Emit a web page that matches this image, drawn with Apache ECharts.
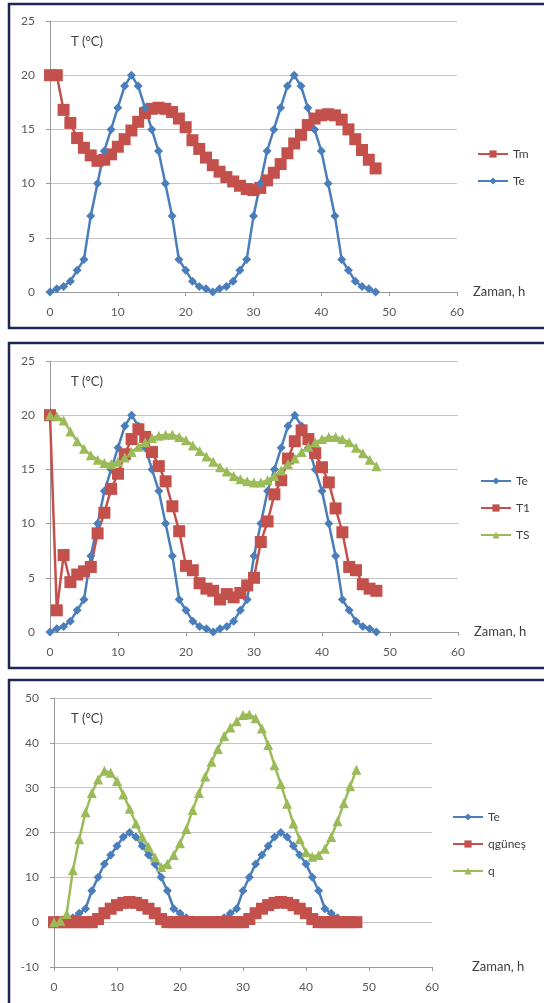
<!DOCTYPE html>
<html>
<head>
<meta charset="utf-8">
<script src="https://cdn.jsdelivr.net/npm/echarts@6/dist/echarts.min.js"></script>
<style>
  html, body { margin: 0; padding: 0; background: #fff; }
  #main { width: 544px; height: 1003px; }
</style>
</head>
<body>
<div id="main"></div>
<script>
// saat (0..48)
var hours = [];
for (var h = 0; h <= 48; h++) hours.push(h);

// dış hava sıcaklığı, her üç grafikte aynı
var te = [0, 0.3, 0.5, 1, 2, 3, 7, 10, 13, 15, 17, 19, 20, 19, 17, 15, 13, 10, 7, 3, 2, 1, 0.5, 0.3,
          0, 0.3, 0.5, 1, 2, 3, 7, 10, 13, 15, 17, 19, 20, 19, 17, 15, 13, 10, 7, 3, 2, 1, 0.5, 0.3, 0];

// grafik 1
var tm = [20, 20, 16.8, 15.6, 14.2, 13.3, 12.6, 12.1, 12.2, 12.7, 13.4, 14.1, 14.9, 15.7, 16.5, 16.9,
          17.0, 16.9, 16.6, 16.0, 15.2, 14.0, 13.2, 12.4, 11.7, 11.1, 10.6, 10.2, 9.8, 9.5, 9.4, 9.6,
          10.3, 11.0, 11.8, 12.8, 13.7, 14.5, 15.4, 16.0, 16.3, 16.4, 16.3, 15.9, 15.0, 14.1, 13.1, 12.2, 11.4];

// grafik 2
var t1 = [20, 2.0, 7.1, 4.6, 5.3, 5.6, 6.0, 9.1, 11.0, 13.2, 14.6, 16.4, 17.8, 18.7, 18.0, 16.6,
          15.3, 13.9, 11.6, 9.3, 6.1, 5.7, 4.5, 4.0, 3.8, 3.0, 3.5, 3.2, 3.6, 4.3, 5.0, 8.3,
          10.2, 12.7, 14.0, 16.0, 17.6, 18.6, 17.8, 16.5, 15.2, 13.8, 11.4, 9.2, 6.0, 5.7, 4.4, 4.0, 3.8];
var ts = [20, 19.9, 19.5, 18.5, 17.6, 16.9, 16.3, 15.9, 15.6, 15.5, 15.7, 16.1, 16.6, 17.1, 17.5, 17.9,
          18.1, 18.2, 18.2, 18.0, 17.7, 17.2, 16.7, 16.2, 15.7, 15.2, 14.8, 14.4, 14.1, 13.9, 13.8, 13.8,
          14.0, 14.4, 14.9, 15.5, 16.0, 16.6, 17.1, 17.5, 17.8, 18.0, 18.0, 17.8, 17.5, 17.0, 16.5, 15.9, 15.3];

// grafik 3
var qGunes = [0, 0, 0, 0, 0, 0, 0, 0.7, 2.0, 3.0, 3.8, 4.3, 4.5, 4.3, 3.8, 3.0, 2.0, 0.7,
              0, 0, 0, 0, 0, 0, 0, 0, 0, 0, 0, 0, 0, 0.7, 2.0, 3.0, 3.8, 4.3, 4.5, 4.3, 3.8, 3.0, 2.0, 0.7,
              0, 0, 0, 0, 0, 0, 0];
var q = [0, 0.3, 1.8, 11.6, 18.5, 24.5, 28.8, 31.8, 33.8, 33.3, 31.5, 28.5, 25.3, 22.0, 19.0, 16.8,
         14.5, 12.3, 13.0, 15.0, 17.6, 20.8, 25.0, 28.8, 32.5, 35.8, 38.6, 41.5, 43.4, 44.8, 46.2, 46.3,
         45.5, 43.2, 39.5, 35.0, 30.8, 26.4, 22.0, 18.5, 15.6, 14.6, 15.0, 16.4, 19.0, 22.5, 26.5, 30.3, 34.0];

function pts(vals) {
    return hours.map(function (h, i) { return [h, vals[i]]; });
}

var BLUE = '#4a7ebb', RED = '#c4504c', GREEN = '#9bbb59';
var TXT = '#595959';
var FONT = 'Lato';

function xAxisOf(idx, onZero) {
    return {
        type: 'value', gridIndex: idx, min: 0, max: 60, interval: 10,
        name: 'Zaman, h', nameLocation: 'end', nameGap: idx === 2 ? 40 : 16,
        nameTextStyle: {color: '#404040', fontSize: 13, fontFamily: FONT},
        axisLine: {show: true, onZero: onZero, lineStyle: {color: '#9a9a9a'}},
        axisTick: {show: true, length: 4, lineStyle: {color: '#9a9a9a'}},
        axisLabel: {color: TXT, fontSize: 12, fontFamily: FONT, margin: 14},
        splitLine: {show: false}
    };
}

function yAxisOf(idx, min, max, step) {
    return {
        type: 'value', gridIndex: idx, min: min, max: max, interval: step,
        axisLine: {show: true, lineStyle: {color: '#9a9a9a'}},
        axisTick: {show: true, length: 4, lineStyle: {color: '#9a9a9a'}},
        axisLabel: {color: TXT, fontSize: 12, fontFamily: FONT, margin: 15},
        splitLine: {show: true, lineStyle: {color: '#c4c4c4', width: 1}}
    };
}

function line(name, vals, idx, color, symbol, size) {
    return {
        name: name, type: 'line', xAxisIndex: idx, yAxisIndex: idx,
        data: pts(vals), symbol: symbol, symbolSize: size, showSymbol: true,
        itemStyle: {color: color}, lineStyle: {color: color, width: 2.5}
    };
}

function legendOf(names, left, top) {
    return {
        data: names, orient: 'vertical', left: left, top: top, padding: 0,
        itemWidth: 30, itemHeight: 9, itemGap: 15,
        textStyle: {color: '#404040', fontSize: 12, fontFamily: FONT}
    };
}

function frame(y, h) {
    return {
        type: 'rect', shape: {x: 9, y: y, width: 545, height: h},
        style: {fill: 'none', stroke: '#1c2555', lineWidth: 2.5}, silent: true
    };
}

function label(y) {
    return {
        type: 'text', left: 71, top: y - 8,
        style: {text: 'T (°C)', fill: '#404040', font: '13px Lato'}
    };
}

var myChart = echarts.init(document.getElementById('main'));
myChart.setOption({
    animation: false,
    backgroundColor: '#fff',
    grid: [
        {left: 50, right: 87, top: 21, bottom: 711},
        {left: 50, right: 86, top: 361, bottom: 371},
        {left: 54, right: 112, top: 698, bottom: 36}
    ],
    xAxis: [xAxisOf(0, true), xAxisOf(1, true), xAxisOf(2, false)],
    yAxis: [yAxisOf(0, 0, 25, 5), yAxisOf(1, 0, 25, 5), yAxisOf(2, -10, 50, 10)],
    legend: [
        legendOf(['Tm', 'Te'], 477, 148),
        legendOf(['Te', 'T1', 'TS'], 480, 475),
        legendOf(['Te', 'qgüneş', 'q'], 452, 811)
    ],
    graphic: [
        frame(4, 324), frame(343, 325), frame(680, 340),
        label(43), label(383), label(720)
    ],
    series: [
        line('Tm', tm, 0, RED, 'rect', 12),
        line('Te', te, 0, BLUE, 'diamond', 9),
        line('Te', te, 1, BLUE, 'diamond', 9),
        line('T1', t1, 1, RED, 'rect', 12),
        line('TS', ts, 1, GREEN, 'triangle', 10),
        line('Te', te, 2, BLUE, 'diamond', 9),
        line('qgüneş', qGunes, 2, RED, 'rect', 12),
        line('q', q, 2, GREEN, 'triangle', 10)
    ]
});
</script>
</body>
</html>
